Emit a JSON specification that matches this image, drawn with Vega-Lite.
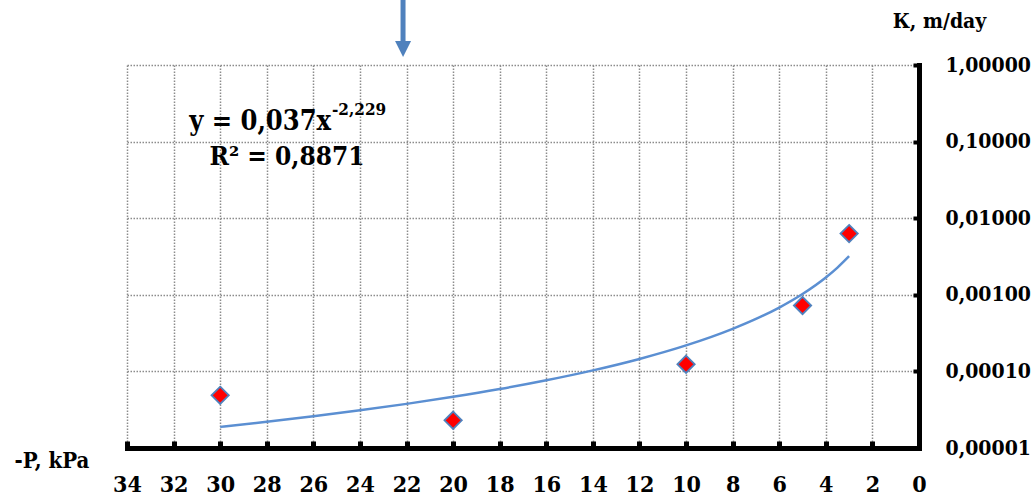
{
  "$schema": "https://vega.github.io/schema/vega-lite/v6.json",
  "width": 792,
  "height": 383,
  "autosize": {"type": "none"},
  "padding": {"left": 127, "top": 65, "right": 116, "bottom": 49},
  "background": "white",
  "config": {
    "view": {"stroke": null},
    "font": "DejaVu Serif Condensed"
  },
  "datasets": {
    "points": [
      {"x": 30, "y": 0.0000487},
      {"x": 20, "y": 0.000023},
      {"x": 10, "y": 0.000124},
      {"x": 5, "y": 0.000725},
      {"x": 3, "y": 0.0063}
    ],
    "trend": [
      {"x": 3, "y": 0.003197},
      {"x": 3.5, "y": 0.002267},
      {"x": 4, "y": 0.001683},
      {"x": 5, "y": 0.001024},
      {"x": 6, "y": 0.0006818},
      {"x": 7, "y": 0.0004837},
      {"x": 8, "y": 0.0003591},
      {"x": 10, "y": 0.0002184},
      {"x": 12, "y": 0.0001455},
      {"x": 14, "y": 0.0001032},
      {"x": 16, "y": 0.0000766},
      {"x": 18, "y": 0.0000589},
      {"x": 20, "y": 0.0000466},
      {"x": 22, "y": 0.00003767},
      {"x": 24, "y": 0.00003102},
      {"x": 26, "y": 0.00002596},
      {"x": 28, "y": 0.0000220},
      {"x": 30, "y": 0.00001887}
    ],
    "arrow": [{"x": 22.15, "y": 7.06, "y2": 2.0, "head": 1.618}],
    "labels": [
      {"x": 25.24, "y": 0.1417, "text": "y = 0,037x", "kind": "eq"},
      {"x": 25.2, "y": 0.2225, "text": "-2,229", "kind": "sup"},
      {"x": 27.13, "y": 0.04949, "text": "R² = 0,8871", "kind": "r2"}
    ]
  },
  "layer": [
    {
      "data": {"name": "trend"},
      "mark": {"type": "line", "color": "#5b8fd2", "strokeWidth": 2.5, "interpolate": "monotone"},
      "encoding": {
        "x": {
          "field": "x", "type": "quantitative",
          "scale": {"domain": [0, 34], "reverse": true, "nice": false, "zero": false},
          "axis": {
            "title": "-P, kPa",
            "values": [0, 2, 4, 6, 8, 10, 12, 14, 16, 18, 20, 22, 24, 26, 28, 30, 32, 34],
            "format": "d",
            "labelFont": "DejaVu Serif Condensed", "labelFontWeight": "bold", "labelFontSize": 23, "labelColor": "black",
            "labelBaseline": "alphabetic", "labelPadding": 50, "labelFlush": false, "labelOverlap": false,
            "tickSize": -7, "tickWidth": 5, "tickColor": "black",
            "domainColor": "black", "domainWidth": 5, "domainCap": "square",
            "grid": true, "gridColor": "#8c8c8c", "gridDash": [1.5, 1.5], "gridWidth": 1.5,
            "titleFont": "DejaVu Serif Condensed", "titleFontWeight": "bold", "titleFontSize": 22, "titleColor": "black",
            "titleAlign": "left", "titleBaseline": "alphabetic", "titleX": -113, "titleY": 19, "titleAngle": 0
          }
        },
        "y": {
          "field": "y", "type": "quantitative",
          "scale": {"type": "log", "domain": [0.00001, 1], "nice": false},
          "axis": {
            "orient": "right",
            "title": "К, m/day",
            "values": [0.00001, 0.0001, 0.001, 0.01, 0.1, 1],
            "labelExpr": "replace(format(datum.value, '.5f'), '.', ',')",
            "labelFont": "DejaVu Serif Condensed", "labelFontWeight": "bold", "labelFontSize": 21, "labelColor": "black",
            "labelAlign": "left", "labelBaseline": "middle", "labelPadding": 32, "labelFlush": false, "labelOverlap": false,
            "tickSize": -6, "tickWidth": 4, "tickColor": "black",
            "domainColor": "black", "domainWidth": 5, "domainCap": "square",
            "grid": true, "gridColor": "#8c8c8c", "gridDash": [1.5, 1.5], "gridWidth": 1.5,
            "titleFont": "DejaVu Serif Condensed", "titleFontWeight": "bold", "titleFontSize": 21, "titleColor": "black",
            "titleAlign": "center", "titleBaseline": "alphabetic", "titleAngle": 0, "titleX": 20, "titleY": -38
          }
        }
      }
    },
    {
      "data": {"name": "points"},
      "mark": {"type": "point", "shape": "M0,-1L1,0L0,1L-1,0Z", "filled": true, "fill": "#ff0000", "stroke": "#4f81bd", "strokeWidth": 1.8, "size": 300, "opacity": 1},
      "encoding": {
        "x": {"field": "x", "type": "quantitative"},
        "y": {"field": "y", "type": "quantitative"}
      }
    },
    {
      "data": {"name": "arrow"},
      "mark": {"type": "rule", "color": "#4f81bd", "strokeWidth": 5},
      "encoding": {
        "x": {"field": "x", "type": "quantitative"},
        "y": {"field": "y", "type": "quantitative"},
        "y2": {"field": "y2"}
      }
    },
    {
      "data": {"name": "arrow"},
      "mark": {"type": "point", "shape": "M-1,-1L1,-1L0,1Z", "filled": true, "color": "#4f81bd", "size": 256, "opacity": 1},
      "encoding": {
        "x": {"field": "x", "type": "quantitative"},
        "y": {"field": "head", "type": "quantitative"}
      }
    },
    {
      "data": {"name": "labels"},
      "transform": [{"filter": "datum.kind == 'eq'"}],
      "mark": {"type": "text", "font": "DejaVu Serif Condensed", "fontWeight": "bold", "fontSize": 27, "align": "right", "baseline": "alphabetic", "color": "black"},
      "encoding": {
        "x": {"field": "x", "type": "quantitative"},
        "y": {"field": "y", "type": "quantitative"},
        "text": {"field": "text"}
      }
    },
    {
      "data": {"name": "labels"},
      "transform": [{"filter": "datum.kind == 'sup'"}],
      "mark": {"type": "text", "font": "DejaVu Serif Condensed", "fontWeight": "bold", "fontSize": 17, "align": "left", "baseline": "alphabetic", "color": "black"},
      "encoding": {
        "x": {"field": "x", "type": "quantitative"},
        "y": {"field": "y", "type": "quantitative"},
        "text": {"field": "text"}
      }
    },
    {
      "data": {"name": "labels"},
      "transform": [{"filter": "datum.kind == 'r2'"}],
      "mark": {"type": "text", "font": "DejaVu Serif Condensed", "fontWeight": "bold", "fontSize": 26, "align": "center", "baseline": "alphabetic", "color": "black"},
      "encoding": {
        "x": {"field": "x", "type": "quantitative"},
        "y": {"field": "y", "type": "quantitative"},
        "text": {"field": "text"}
      }
    }
  ]
}
